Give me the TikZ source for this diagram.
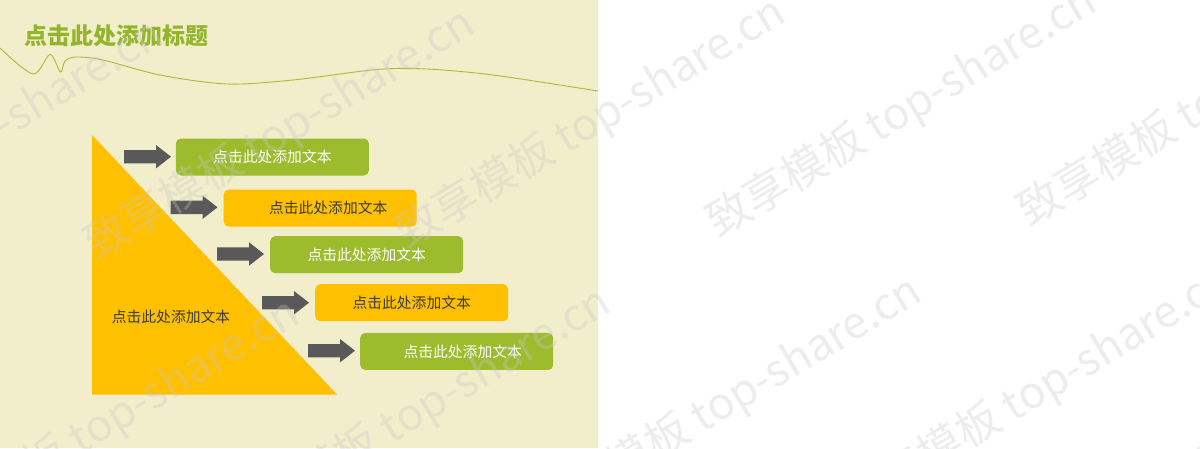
\documentclass[tikz,border=0pt]{standalone}
\usepackage{fontspec}
\newfontfamily\cjk{Noto Sans CJK SC}
\definecolor{bgbeige}{HTML}{F2EDCB}
\definecolor{tgreen}{HTML}{9CBB2D}
\definecolor{torange}{HTML}{FFC000}
\definecolor{agray}{HTML}{595959}
\definecolor{ttitle}{HTML}{93B52B}
\definecolor{tdark}{HTML}{3C3C3C}
\definecolor{wmgray}{HTML}{C8C8C8}
\definecolor{curvegreen}{HTML}{A3BF35}
\begin{document}
\begin{tikzpicture}[x=1pt,y=-1pt,
  box/.style={rectangle, rounded corners=5pt, minimum width=193pt, minimum height=37pt, inner sep=0pt, anchor=north west, font=\cjk\fontsize{14.8}{16}\selectfont},
  gbox/.style={box, fill=tgreen, text=white},
  obox/.style={box, fill=torange, text=tdark},
  wm/.style={anchor=base west, inner sep=0pt, rotate=31, text=wmgray, text opacity=0.32, font=\cjk\fontsize{44}{48}\selectfont},
  pics/barrow/.style={code={\fill[agray] (0,-6.7)--(32,-6.7)--(32,-11.7)--(47,0)--(32,11.7)--(32,6.7)--(0,6.7)--cycle;}}
]
\useasboundingbox (0,0) rectangle (1200,448);
\fill[white] (0,0) rectangle (1200,448);
\fill[bgbeige] (0,0) rectangle (598,448);
% title and wavy line
\node[text=ttitle, inner sep=0pt, font=\cjk\bfseries\fontsize{23}{26}\selectfont] (title) at (116.5,36) {点击此处添加标题};
\draw[curvegreen, line width=0.9pt] plot[smooth, tension=0.5] coordinates {(0,48) (33,74) (50,54.5) (60.5,72) (65,61) (76,57) (103,60) (160,75) (227,84) (293,80) (377,69.5) (427,69) (493,75) (598,91)};
% triangle
\coordinate (t1) at (92,135);
\coordinate (t2) at (92,394.5);
\coordinate (t3) at (337,394.5);
\fill[torange] (t1) -- (t2) -- (t3) -- cycle;
\node[text=tdark, inner sep=0pt, font=\cjk\fontsize{14.8}{16}\selectfont] (tri) at (171,317) {点击此处添加文本};
% boxes
\node[gbox] (b1) at (175.7,138.3) {点击此处添加文本};
\node[obox] (b2) at (223.5,189.3) {\hspace*{16pt}点击此处添加文本};
\node[gbox] (b3) at (270,236) {点击此处添加文本};
\node[obox] (b4) at (315,284) {点击此处添加文本};
\node[gbox] (b5) at (360,332.7) {\hspace*{12pt}点击此处添加文本};
% block arrows
\pic (a1) at (124,156.7) {barrow};
\pic (a2) at (170.5,207.3) {barrow};
\pic (a3) at (217,254) {barrow};
\pic (a4) at (262,302.7) {barrow};
\pic (a5) at (308,350.7) {barrow};
% watermarks
\begin{scope}
\clip (0,0) rectangle (1200,448);
\foreach \x/\y [count=\i] in {-215/272, 96/261, 407/250, 718/239, 1029/228, -79/551, 232/540, 543/529, 854/518, 1165/507}
  \node[wm] (wm\i) at (\x,\y) {致享模板 top-share.cn};
\end{scope}
\end{tikzpicture}
\end{document}
